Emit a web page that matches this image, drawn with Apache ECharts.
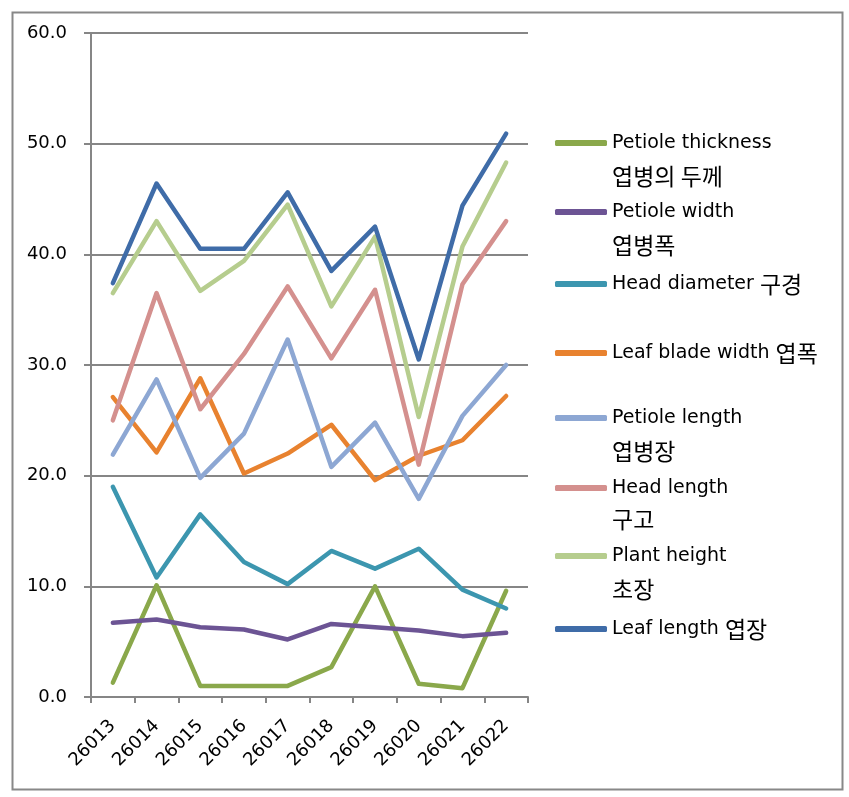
<!DOCTYPE html>
<html>
<head>
<meta charset="utf-8">
<script src="https://cdn.jsdelivr.net/npm/echarts@6/dist/echarts.min.js"></script>
<style>html,body{margin:0;padding:0;background:#fff}#c{width:849px;height:797px}</style>
</head>
<body>
<div id="c"></div>
<script>
var categories = ['26013','26014','26015','26016','26017','26018','26019','26020','26021','26022'];
var yTicks = [0, 10, 20, 30, 40, 50, 60];

var petioleThickness = [1.3, 10.1, 1.0, 1.0, 1.0, 2.7, 10.0, 1.2, 0.8, 9.6];
var petioleWidth     = [6.7, 7.0, 6.3, 6.1, 5.2, 6.6, 6.3, 6.0, 5.5, 5.8];
var headDiameter     = [19.0, 10.8, 16.5, 12.2, 10.2, 13.2, 11.6, 13.4, 9.7, 8.0];
var leafBladeWidth   = [27.1, 22.1, 28.8, 20.2, 22.0, 24.6, 19.6, 21.8, 23.2, 27.2];
var petioleLength    = [21.9, 28.7, 19.8, 23.8, 32.3, 20.8, 24.8, 17.9, 25.4, 30.0];
var headLength       = [25.0, 36.5, 26.0, 31.0, 37.1, 30.6, 36.8, 21.0, 37.3, 43.0];
var plantHeight      = [36.5, 43.0, 36.7, 39.4, 44.5, 35.3, 41.6, 25.3, 40.7, 48.3];
var leafLength       = [37.4, 46.4, 40.5, 40.5, 45.6, 38.5, 42.5, 30.5, 44.4, 50.9];

var seriesNames = ['Petiole thickness', 'Petiole width', 'Head diameter 구경', 'Leaf blade width 엽폭',
                   'Petiole length', 'Head length', 'Plant height', 'Leaf length 엽장'];
var secondLines = ['엽병의 두께', '엽병폭', '', '', '엽병장', '구고', '초장', ''];
var seriesData = [petioleThickness, petioleWidth, headDiameter, leafBladeWidth,
                  petioleLength, headLength, plantHeight, leafLength];
var colors = ['#8AA84B', '#6C5494', '#3C96AF', '#E8822F', '#8DA7D3', '#D4908E', '#B6CD8E', '#3F6CA8'];
var legendRowY = [143, 212, 284, 353, 418, 488, 556, 629];
var secondRowY = [177, 246, 0, 0, 452, 520, 590, 0];

var LATIN = '"DejaVu Sans", "Noto Sans CJK KR", sans-serif';
var KOR = '"Noto Sans CJK KR", sans-serif';

var chart = echarts.init(document.getElementById('c'), null, {renderer: 'canvas'});

var series = seriesNames.map(function (n, i) {
  return {
    name: n, type: 'line', data: seriesData[i],
    showSymbol: false, symbol: 'none',
    lineStyle: {width: 4.5, color: colors[i], cap: 'round', join: 'round'},
    itemStyle: {color: colors[i]},
    z: 2 + i
  };
});

function legendFormatter(name) {
  var m = name.match(/^(.*?)\s*([\uAC00-\uD7A3\s]+)$/);
  if (m && /[\uAC00-\uD7A3]/.test(m[2])) {
    return '{l|' + m[1] + ' }{k|' + m[2].trim() + '}';
  }
  return '{l|' + name + '}';
}

var legends = seriesNames.map(function (n, i) {
  return {
    data: [n], left: 555, top: legendRowY[i] - 13, padding: 0,
    icon: 'roundRect', itemWidth: 52, itemHeight: 6,
    selectedMode: false,
    formatter: legendFormatter,
    textStyle: {
      fontFamily: LATIN, fontSize: 19, color: '#000', lineHeight: 26,
      rich: {
        l: {fontFamily: LATIN, fontSize: 19, color: '#000', lineHeight: 26},
        k: {fontFamily: KOR, fontSize: 23, color: '#000', lineHeight: 26}
      }
    }
  };
});

var graphics = [{
  type: 'rect', left: 10, top: 10, z: 0,
  shape: {x: 0, y: 0, width: 830, height: 777},
  style: {fill: 'none', stroke: '#888888', lineWidth: 2}
}];
secondLines.forEach(function (t, i) {
  if (!t) return;
  graphics.push({
    type: 'text', left: 612, top: secondRowY[i] - 12,
    style: {text: t, font: '23px ' + KOR, fill: '#000'}
  });
});

chart.setOption({
  backgroundColor: '#fff',
  animation: false,
  color: colors,
  grid: {left: 91, right: 321, top: 33, bottom: 100, containLabel: false},
  legend: legends,
  graphic: graphics,
  xAxis: {
    type: 'category', data: categories, boundaryGap: true,
    axisLine: {lineStyle: {color: '#868686', width: 2}},
    axisTick: {show: true, alignWithLabel: false, length: 6, lineStyle: {color: '#868686', width: 2}},
    axisLabel: {rotate: 45, fontFamily: LATIN, fontSize: 18, color: '#000', margin: 26, interval: 0},
    splitLine: {show: false}
  },
  yAxis: {
    type: 'value', min: yTicks[0], max: yTicks[yTicks.length - 1], interval: 10,
    axisLine: {show: true, lineStyle: {color: '#868686', width: 2}},
    axisTick: {show: true, length: 7, lineStyle: {color: '#868686', width: 2}},
    axisLabel: {fontFamily: LATIN, fontSize: 18, color: '#000', margin: 24,
      formatter: function (v) { return v.toFixed(1); }},
    splitLine: {show: true, lineStyle: {color: '#868686', width: 2}}
  },
  series: series
});
</script>
</body>
</html>
